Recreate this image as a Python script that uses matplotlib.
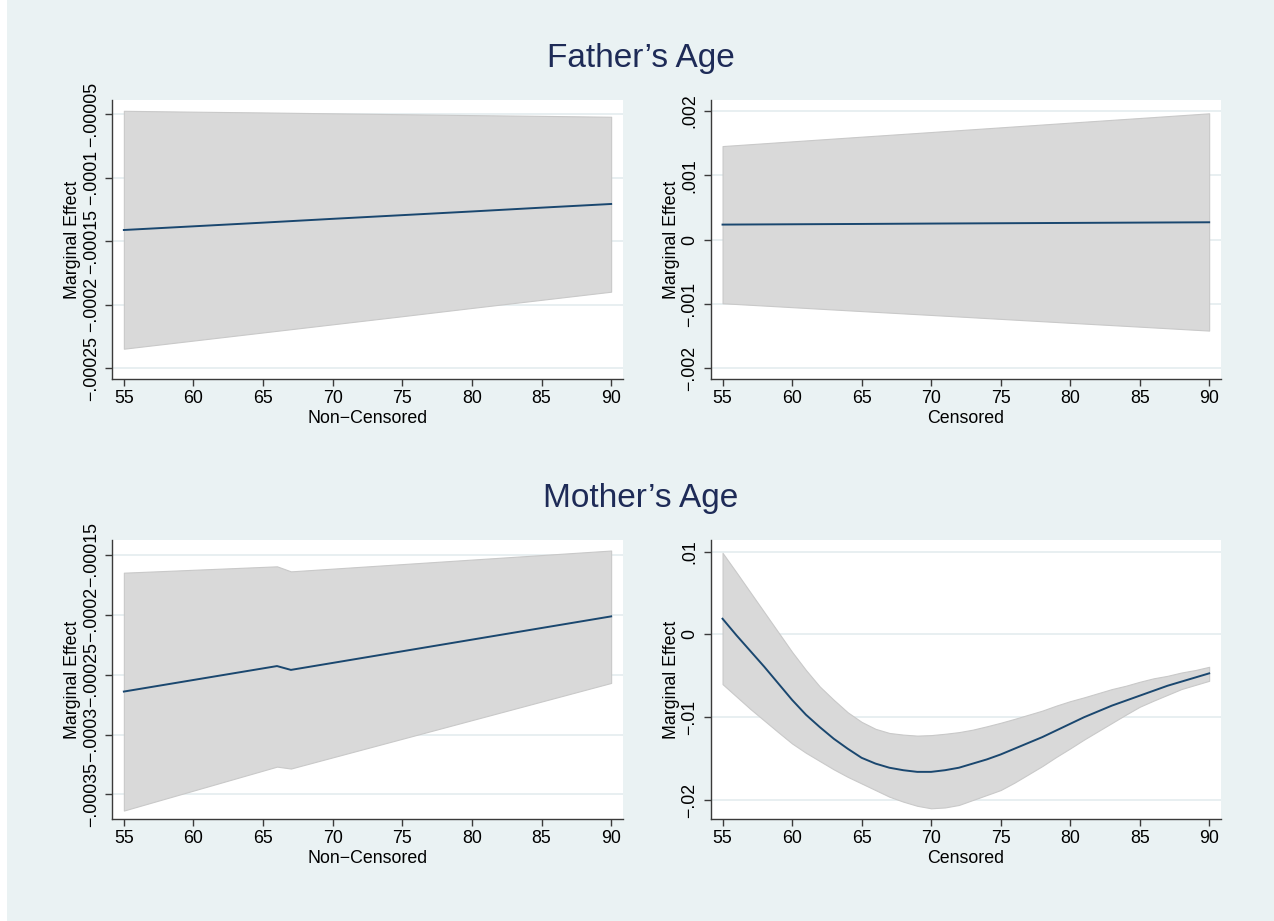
import matplotlib
matplotlib.use("Agg")
import matplotlib.pyplot as plt
from matplotlib.patches import Rectangle

plt.rcParams['font.family'] = ['Liberation Sans', 'DejaVu Sans']

# ---------------- data ----------------
# Father's Age, Non-Censored
fa_nc_x = [55, 60, 65, 70, 75, 80, 85, 90]
fa_nc_mean = [-0.0001411, -0.0001382, -0.0001353, -0.0001323, -0.0001294, -0.0001265, -0.0001235, -0.0001206]
fa_nc_upper = [-0.0000472, -0.0000479, -0.0000485, -0.0000492, -0.0000499, -0.0000506, -0.0000512, -0.0000519]
fa_nc_lower = [-0.0002346, -0.0002282, -0.0002218, -0.0002154, -0.0002090, -0.0002025, -0.0001961, -0.0001897]
fa_nc_yticks = [-0.00025, -0.0002, -0.00015, -0.0001, -0.00005]
fa_nc_yticklabels = ['\u2212.00025', '\u2212.0002', '\u2212.00015', '\u2212.0001', '\u2212.00005']

# Father's Age, Censored
fa_c_x = [55, 60, 65, 70, 75, 80, 85, 90]
fa_c_mean = [0.000234, 0.000239, 0.000244, 0.000250, 0.000255, 0.000260, 0.000265, 0.000270]
fa_c_upper = [0.001454, 0.001527, 0.001600, 0.001672, 0.001745, 0.001818, 0.001890, 0.001963]
fa_c_lower = [-0.000988, -0.001049, -0.001110, -0.001170, -0.001231, -0.001292, -0.001352, -0.001413]
fa_c_yticks = [-0.002, -0.001, 0, 0.001, 0.002]
fa_c_yticklabels = ['\u2212.002', '\u2212.001', '0', '.001', '.002']

# Mother's Age, Non-Censored
ma_nc_x = [55, 66, 67, 90]
ma_nc_mean = [-0.0002641, -0.0002428, -0.0002460, -0.0002013]
ma_nc_upper = [-0.0001648, -0.0001595, -0.0001637, -0.0001463]
ma_nc_lower = [-0.0003635, -0.0003268, -0.0003284, -0.0002569]
ma_nc_yticks = [-0.00035, -0.0003, -0.00025, -0.0002, -0.00015]
ma_nc_yticklabels = ['\u2212.00035', '\u2212.0003', '\u2212.00025', '\u2212.0002', '\u2212.00015']

# Mother's Age, Censored (ages 55..90)
ma_c_x = [55, 56, 57, 58, 59, 60, 61, 62, 63, 64, 65, 66, 67, 68, 69, 70, 71, 72,
          73, 74, 75, 76, 77, 78, 79, 80, 81, 82, 83, 84, 85, 86, 87, 88, 89, 90]
ma_c_mean = [0.0019, -0.0001, -0.0020, -0.0039, -0.0059, -0.0079, -0.0097, -0.0112,
             -0.0126, -0.0138, -0.0149, -0.0156, -0.0161, -0.0164, -0.0166, -0.0166,
             -0.0164, -0.0161, -0.0156, -0.0151, -0.0145, -0.0138, -0.0131, -0.0124,
             -0.0116, -0.0108, -0.0100, -0.0093, -0.0086, -0.0080, -0.0074, -0.0068,
             -0.0062, -0.0057, -0.0052, -0.0047]
ma_c_upper = [0.00986, 0.0075, 0.0051, 0.0027, 0.0003, -0.0021, -0.0043, -0.0063,
              -0.0079, -0.0094, -0.01056, -0.0114, -0.0119, -0.0121, -0.01222, -0.01216,
              -0.0120, -0.0118, -0.0115, -0.0111, -0.01067, -0.0102, -0.0097, -0.0092,
              -0.0086, -0.00806, -0.0076, -0.0071, -0.0066, -0.0062, -0.00572, -0.0053,
              -0.0050, -0.0046, -0.0043, -0.00391]
ma_c_lower = [-0.0060, -0.0075, -0.0090, -0.0104, -0.0118, -0.01317, -0.0143, -0.0153,
              -0.0163, -0.0172, -0.0180, -0.0188, -0.0196, -0.0202, -0.0207, -0.0210,
              -0.0209, -0.0206, -0.0200, -0.0194, -0.0188, -0.0179, -0.0169, -0.0159,
              -0.0148, -0.01377, -0.0127, -0.0117, -0.0107, -0.0097, -0.00874, -0.0080,
              -0.0073, -0.0066, -0.0061, -0.0056]
ma_c_yticks = [-0.02, -0.01, 0, 0.01]
ma_c_yticklabels = ['\u2212.02', '\u2212.01', '0', '.01']

xticks = [55, 60, 65, 70, 75, 80, 85, 90]
xlabels = ['Non\u2212Censored', 'Censored']
titles = ["Father\u2019s Age", "Mother\u2019s Age"]

# ---------------- style ----------------
BG = '#EAF2F3'
GRID = '#E4ECEF'
LINE = '#1A476F'
FILL = '#D9D9D9'
FILL_EDGE = '#C9C9C9'
TITLE = '#1E2B57'
FS = 12.8

W, H = 1274, 921
fig = plt.figure(figsize=(W / 100, H / 100), dpi=100)
fig.patch.set_facecolor('white')
fig.patches.append(Rectangle((7 / W, 0), 1 - 7 / W, 1, transform=fig.transFigure,
                             facecolor=BG, edgecolor='none', zorder=-10))


def px_rect(l, t, r, b):
    return [l / W, 1 - b / H, (r - l) / W, (b - t) / H]


def panel(rect, x, mean, lo, hi, yticks, ylabels, ylim, xlabel):
    ax = fig.add_axes(rect)
    ax.set_facecolor('white')
    ax.fill_between(x, lo, hi, facecolor=FILL, edgecolor=FILL_EDGE, linewidth=0.8, zorder=2)
    ax.plot(x, mean, color=LINE, linewidth=1.4, zorder=3)
    ax.set_xlim(54.17, 90.83)
    ax.set_ylim(*ylim)
    ax.set_xticks(xticks)
    ax.set_xticklabels([str(v) for v in xticks])
    ax.set_yticks(yticks)
    ax.set_yticklabels(ylabels, rotation=90, va='center')
    ax.yaxis.grid(True, color=GRID, linewidth=1.2, zorder=1)
    ax.set_axisbelow(True)
    for s in ('top', 'right'):
        ax.spines[s].set_visible(False)
    for s in ('left', 'bottom'):
        ax.spines[s].set_color('#3a3a3a')
        ax.spines[s].set_linewidth(1.0)
    ax.tick_params(axis='both', direction='out', length=5, width=1.0, color='#3a3a3a',
                   labelsize=FS, labelcolor='black')
    ax.tick_params(axis='y', pad=4)
    ax.tick_params(axis='x', pad=3)
    ax.set_xlabel(xlabel, fontsize=FS, labelpad=2)
    ax.set_ylabel('Marginal Effect', fontsize=FS, labelpad=1)
    return ax


# top row
panel(px_rect(112.3, 100, 622.7, 379.3), fa_nc_x, fa_nc_mean, fa_nc_lower, fa_nc_upper,
      fa_nc_yticks, fa_nc_yticklabels, (-0.0002587, -0.0000387), xlabels[0])
panel(px_rect(711, 100, 1220.7, 379.3), fa_c_x, fa_c_mean, fa_c_lower, fa_c_upper,
      fa_c_yticks, fa_c_yticklabels, (-0.00217, 0.00217), xlabels[1])
# bottom row
panel(px_rect(112.3, 540, 622.7, 819.3), ma_nc_x, ma_nc_mean, ma_nc_lower, ma_nc_upper,
      ma_nc_yticks, ma_nc_yticklabels, (-0.0003708, -0.0001375), xlabels[0])
panel(px_rect(711, 540, 1220.7, 819.3), ma_c_x, ma_c_mean, ma_c_lower, ma_c_upper,
      ma_c_yticks, ma_c_yticklabels, (-0.02233, 0.01141), xlabels[1])

fig.text(641 / W, 1 - 58 / H, titles[0], ha='center', va='center', fontsize=24, color=TITLE)
fig.text(641 / W, 1 - 499 / H, titles[1], ha='center', va='center', fontsize=24, color=TITLE)

fig.savefig('out.png', dpi=100, facecolor=fig.get_facecolor())
